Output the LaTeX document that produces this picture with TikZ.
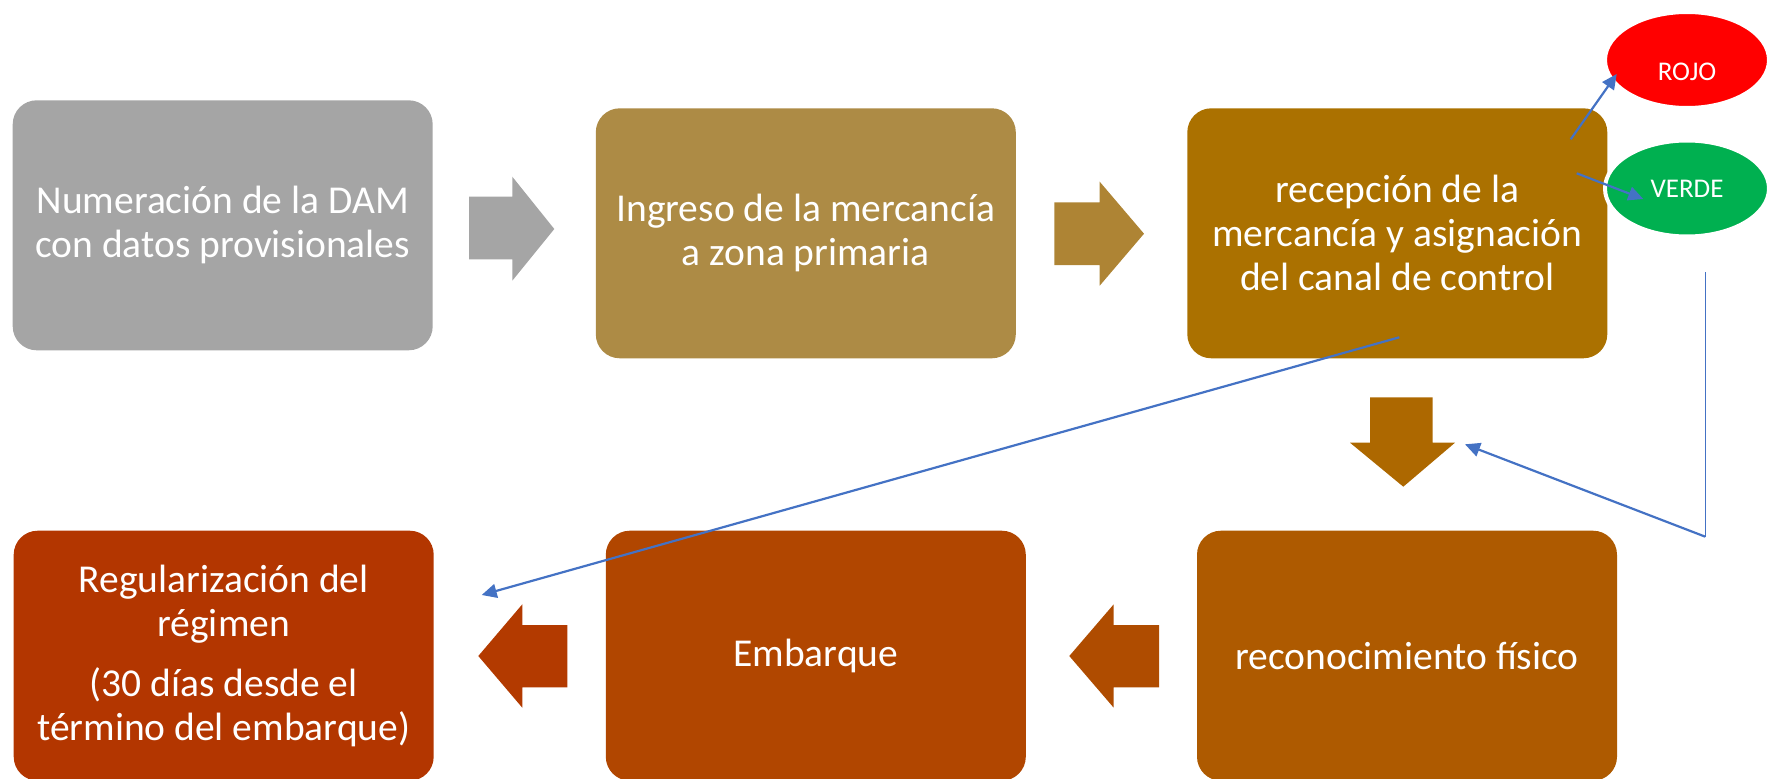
\documentclass[tikz,border=0pt]{standalone}
\usepackage{fontspec}
\setmainfont{Carlito}
\usepackage{tikz}
\usetikzlibrary{arrows.meta, shapes.geometric}

\definecolor{gris}{HTML}{A5A5A5}
\definecolor{ocre}{RGB}{173,139,69}
\definecolor{ocreflecha}{RGB}{174,132,52}
\definecolor{oro}{RGB}{171,113,0}
\definecolor{oroflecha}{RGB}{173,104,0}
\definecolor{naranja}{RGB}{174,90,0}
\definecolor{naranjaflecha}{RGB}{175,76,0}
\definecolor{teja}{RGB}{177,70,0}
\definecolor{tejaflecha}{RGB}{179,58,0}
\definecolor{ladrillo}{RGB}{179,54,0}
\definecolor{azul}{HTML}{4472C4}
\definecolor{rojo}{HTML}{FF0000}
\definecolor{verde}{HTML}{00B050}

\tikzset{
    paso/.style={rectangle, rounded corners=24pt, minimum width=420pt, minimum height=250pt,
        text=white, align=center, font=\fontsize{39.5}{44}\selectfont},
    canal/.style={ellipse, draw=white, line width=4pt, minimum width=164pt, minimum height=96pt,
        text=white, font=\fontsize{27}{31}\selectfont},
    enlace/.style={draw=azul, line width=2.2pt, -{Triangle[length=15pt, width=14pt]}}
}

\begin{document}
\begin{tikzpicture}[x=1pt, y=-1pt]
        \useasboundingbox (0, 0) rectangle (1767, 779);

        % etapas
        \node [paso, fill=gris] (numeracion) at (222.7, 225.3) {Numeración de la DAM\\con datos provisionales};
        \node [paso, fill=ocre] (ingreso) at (805.8, 233.3) {Ingreso de la mercancía\\a zona primaria};
        \node [paso, fill=oro] (recepcion) at (1397.3, 233.3) {recepción de la\\mercancía y asignación\\del canal de control};
        \node [paso, fill=naranja] (reconocimiento) at (1407, 655.7) {reconocimiento físico};
        \node [paso, fill=teja] (embarque) at (815.8, 655.7) {Embarque};
        \node [paso, fill=ladrillo] (regularizacion) at (223.7, 655.7) {Regularización del\\régimen\\[16pt](30 días desde el\\término del embarque)};

        % flechas gruesas
        \fill [gris] (469, 196.7) -- (512.3, 196.7) -- (512.3, 176.7) -- (554.3, 229) -- (512.3, 280.7) -- (512.3, 259.3) -- (469, 259.3) -- cycle;
        \fill [ocreflecha] (1054.3, 202.3) -- (1099.7, 202.3) -- (1099.7, 181.7) -- (1144, 233.7) -- (1099.7, 285.7) -- (1099.7, 265) -- (1054.3, 265) -- cycle;
        \fill [oroflecha] (1370, 397.3) -- (1432.7, 397.3) -- (1432.7, 442.7) -- (1455, 442.7) -- (1403.3, 486.7) -- (1350, 442.7) -- (1370, 442.7) -- cycle;
        \fill [naranjaflecha] (1159, 625) -- (1113.7, 625) -- (1113.7, 604.3) -- (1069.3, 656) -- (1113.7, 707.7) -- (1113.7, 687.3) -- (1159, 687.3) -- cycle;
        \fill [tejaflecha] (567.3, 625) -- (522.3, 625) -- (522.3, 604.3) -- (478.3, 656) -- (522.3, 707.7) -- (522.3, 687.3) -- (567.3, 687.3) -- cycle;

        % canales
        \node [canal, fill=rojo, text height=40pt, text depth=0pt] (rojo) at (1687, 60) {ROJO};
        \node [canal, fill=verde] (verde) at (1687, 188.5) {VERDE};

        % conectores
        \coordinate (arojo) at (1570.7, 139.3);
        \coordinate (brojo) at (1616.7, 74);
        \coordinate (averde) at (1576.7, 173.3);
        \coordinate (bverde) at (1643.3, 199);
        \coordinate (acanal) at (1399.3, 337.3);
        \coordinate (bcanal) at (481.7, 595);
        \coordinate (lado) at (1705.3, 272);
        \coordinate (esquina) at (1705.3, 536.7);
        \coordinate (regreso) at (1465, 444.3);

        \draw [enlace] (arojo) to (brojo);
        \draw [enlace] (averde) to (bverde);
        \draw [enlace] (acanal) to (bcanal);
        \draw [azul, line width=1.2pt] (lado) to (esquina);
        \draw [enlace] (esquina) to (regreso);
    \end{tikzpicture}
\end{document}
